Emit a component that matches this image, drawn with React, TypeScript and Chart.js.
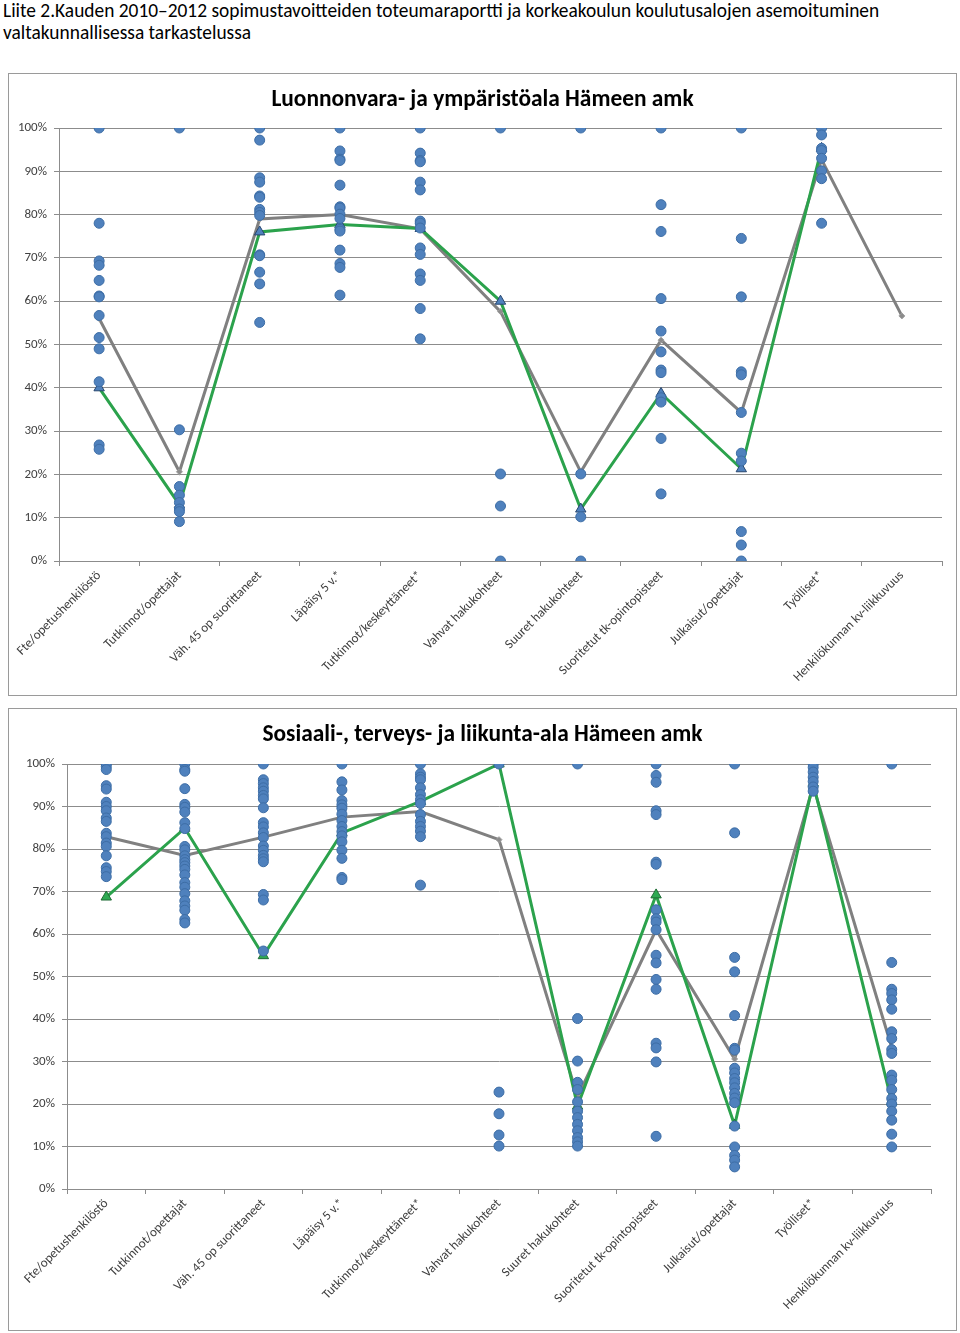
import React, { useEffect, useRef } from 'react';
import { Chart, registerables } from 'chart.js';

Chart.register(...registerables);

const categories = [
  'Fte/opetushenkilöstö',
  'Tutkinnot/opettajat',
  'Väh. 45 op suorittaneet',
  'Läpäisy 5 v.*',
  'Tutkinnot/keskeyttäneet*',
  'Vahvat hakukohteet',
  'Suuret hakukohteet',
  'Suoritetut tk-opintopisteet',
  'Julkaisut/opettajat',
  'Työlliset*',
  'Henkilökunnan kv-liikkuvuus',
];

const yTicks = [0, 10, 20, 30, 40, 50, 60, 70, 80, 90, 100];

const headerLine1 =
  'Liite 2.Kauden 2010–2012 sopimustavoitteiden toteumaraportti ja korkeakoulun koulutusalojen asemoituminen';
const headerLine2 = 'valtakunnallisessa tarkastelussa';

// ---- Chart 1: Luonnonvara- ja ympäristöala ----
const topTitle = 'Luonnonvara- ja ympäristöala Hämeen amk';

// other universities of applied sciences (one list per category)
const topDots: number[][] = [
  [100, 78, 69.3, 68.3, 64.8, 61.2, 61.0, 56.7, 51.6, 49.0, 41.4, 26.8, 25.8],
  [100, 30.3, 17.2, 15.2, 13.5, 12.0, 11.4, 9.1],
  [100, 97.2, 88.5, 87.5, 84.3, 84.0, 81.2, 80.5, 79.8, 70.7, 70.5, 66.7, 64.0, 55.1],
  [100, 94.7, 92.8, 92.5, 86.8, 81.8, 81.5, 80.1, 79.1, 76.6, 76.2, 71.8, 68.7, 67.8, 61.4],
  [100, 94.2, 92.5, 92.2, 87.5, 85.7, 78.5, 78.0, 76.9, 72.3, 70.8, 66.3, 64.8, 58.3, 51.3],
  [100, 20.1, 12.7, 0],
  [100, 20.1, 10.2, 0],
  [100, 82.3, 76.1, 60.6, 53.1, 48.3, 44.1, 43.5, 37.7, 36.7, 28.3, 15.5],
  [100, 74.5, 61.0, 43.7, 43.0, 34.3, 24.9, 23.1, 6.8, 3.7, 0],
  [100, 98.4, 95.3, 94.8, 93.0, 90.1, 88.3, 78.0],
  [],
];
// Hämeen amk
const topSchool: (number | null)[] = [40, 13, 76, 77.7, 76.8, 60, 12, 38.7, 21.3, 95.3, null];
// national level
const topNational: number[] = [56, 20.6, 79, 80, 76.7, 57.6, 20.6, 51, 34.3, 92.7, 56.6];

// ---- Chart 2: Sosiaali-, terveys- ja liikunta-ala ----
const bottomTitle = 'Sosiaali-, terveys- ja liikunta-ala Hämeen amk';

const bottomDots: number[][] = [
  [100, 99.4, 98.7, 94.9, 94.1, 91.0, 90.0, 89.0, 87.3, 86.5, 83.7, 82.9, 81.4, 80.6, 78.4, 75.6, 74.7, 73.5],
  [100, 98.7, 98.3, 94.2, 90.5, 89.8, 88.7, 86.2, 84.8, 80.6, 79.8, 78.4, 77.5, 76.8, 76.0, 75.2, 73.9, 72.1, 71.0, 69.5, 67.8, 66.6, 65.6, 63.4, 62.6],
  [100, 96.3, 95.4, 94.4, 93.6, 92.6, 91.8, 89.7, 86.2, 85.2, 83.8, 82.7, 80.7, 79.7, 78.5, 77.7, 77.0, 69.3, 68.0, 56.0],
  [100, 95.8, 93.9, 91.4, 90.4, 89.6, 88.2, 86.7, 85.3, 84.1, 83.1, 81.7, 79.7, 77.8, 73.3, 72.8],
  [100, 97.7, 96.9, 96.3, 94.4, 92.8, 91.6, 90.7, 88.1, 86.5, 85.3, 84.2, 82.9, 71.5],
  [100, 22.8, 17.7, 12.7, 10.1],
  [100, 40.1, 30.1, 25.1, 23.4, 20.5, 18.3, 16.8, 15.2, 13.7, 12.1, 11.1, 10.1],
  [100, 97.3, 95.7, 89.0, 88.1, 76.9, 76.4, 65.7, 63.6, 62.8, 61.0, 55.0, 53.2, 49.3, 47.0, 34.3, 33.2, 29.9, 12.4],
  [100, 83.8, 54.5, 51.1, 40.8, 33.1, 32.7, 28.4, 27.3, 26.0, 25.0, 23.8, 22.5, 21.4, 20.3, 14.8, 9.9, 7.9, 6.8, 5.2],
  [100, 99.2, 98.1, 96.9, 95.9, 94.6, 93.6],
  [100, 53.3, 47.0, 46.0, 44.5, 42.3, 37.0, 35.4, 32.8, 31.9, 26.8, 25.6, 23.4, 21.3, 20.0, 18.3, 16.2, 12.9, 9.9],
];
const bottomSchool: (number | null)[] = [68.7, 84.9, 54.9, 83.8, 91.2, 100, 19.5, 69.2, 15.0, 95.5, 20.5];
const bottomNational: number[] = [82.9, 78.5, 82.8, 87.5, 88.8, 82.2, 21.7, 61.0, 30.6, 94.8, 33.3];

const FONT = 'Carlito, Calibri, Lato, "Open Sans", sans-serif';
const GRID = '#8C8C8C';
const TEXT = '#404040';

type PanelProps = {
  title: string;
  dots: number[][];
  school: (number | null)[];
  national: number[];
  top: number;
  yAxisWidth: number;
  padTop: number;
  padRight: number;
  xAxisHeight: number;
  triFill: string;
  triBorder: string;
};

const BOX_W = 949;
const BOX_H = 623;

function Panel(p: PanelProps) {
  const ref = useRef<HTMLCanvasElement | null>(null);
  useEffect(() => {
    if (!ref.current) return;
    const dotData = p.dots.flatMap((col, i) => col.map((v) => ({ x: categories[i], y: v })));
    const chart = new Chart(ref.current, {
      type: 'line',
      data: {
        labels: categories,
        datasets: [
          {
            label: 'Muut ammattikorkeakoulut',
            data: dotData as any,
            showLine: false,
            pointStyle: 'circle',
            pointRadius: 5,
            pointBackgroundColor: '#4F81BD',
            pointBorderColor: '#3D6DA5',
            pointBorderWidth: 1,
            order: 0,
          },
          {
            label: 'Hämeen amk',
            data: p.school,
            borderColor: '#2BA24C',
            backgroundColor: '#2BA24C',
            borderWidth: 3,
            tension: 0,
            pointStyle: 'triangle',
            pointRadius: 6,
            pointBackgroundColor: p.triFill,
            pointBorderColor: p.triBorder,
            pointBorderWidth: 1,
            order: 1,
          },
          {
            label: 'Valtakunnallinen',
            data: p.national,
            borderColor: '#808080',
            backgroundColor: '#808080',
            borderWidth: 3,
            tension: 0,
            pointStyle: 'rectRot',
            pointRadius: 3,
            pointBackgroundColor: '#8C8C8C',
            pointBorderColor: '#A0A0A0',
            pointBorderWidth: 1,
            order: 2,
          },
        ],
      },
      options: {
        responsive: false,
        animation: false,
        events: [],
        layout: { padding: { top: p.padTop, right: p.padRight, left: 0, bottom: 0 } },
        plugins: { legend: { display: false }, tooltip: { enabled: false }, title: { display: false } },
        scales: {
          x: {
            type: 'category',
            offset: true,
            grid: { offset: true, drawOnChartArea: false, drawTicks: true, tickLength: 5, color: GRID },
            border: { color: GRID, width: 1 },
            ticks: {
              autoSkip: false,
              maxRotation: 45,
              minRotation: 45,
              padding: 2,
              color: TEXT,
              font: { family: FONT, size: 13 },
            },
            afterFit: (s: any) => {
              s.height = p.xAxisHeight;
            },
          },
          y: {
            type: 'linear',
            min: 0,
            max: 100,
            afterBuildTicks: (s: any) => {
              s.ticks = yTicks.map((v) => ({ value: v }));
            },
            ticks: {
              callback: (v: any) => v + '%',
              color: TEXT,
              padding: 7,
              font: { family: FONT, size: 13 },
            },
            grid: { color: GRID, lineWidth: 1, tickLength: 5 },
            border: { color: GRID, width: 1 },
            afterFit: (s: any) => {
              s.width = p.yAxisWidth;
            },
          },
        },
      },
    });
    return () => chart.destroy();
  }, []);

  return (
    <div
      style={{
        position: 'absolute',
        left: 8,
        top: p.top,
        width: BOX_W,
        height: BOX_H,
        boxSizing: 'border-box',
        border: '1px solid #9A9A9A',
        background: '#fff',
      }}
    >
      <canvas ref={ref} width={BOX_W - 2} height={BOX_H - 2} style={{ display: 'block' }} />
      <div
        style={{
          position: 'absolute',
          left: 0,
          right: 0,
          top: 11,
          textAlign: 'center',
          fontFamily: FONT,
          fontWeight: 700,
          fontSize: 23.4,
          lineHeight: '26px',
          color: '#000',
          whiteSpace: 'nowrap',
        }}
      >
        {p.title}
      </div>
    </div>
  );
}

export default function App() {
  return (
    <div style={{ position: 'absolute', left: 0, top: 0, width: 960, height: 1333, background: '#fff' }}>
      <div
        style={{
          position: 'absolute',
          left: 3,
          top: 0,
          fontFamily: FONT,
          fontSize: 19.4,
          lineHeight: '22px',
          color: '#000',
          whiteSpace: 'nowrap',
        }}
      >
        {headerLine1}
        <br />
        {headerLine2}
      </div>
      <Panel
        title={topTitle}
        dots={topDots}
        school={topSchool}
        national={topNational}
        top={73}
        yAxisWidth={50}
        padTop={54}
        padRight={14}
        xAxisHeight={134}
        triFill="#4F81BD"
        triBorder="#27466E"
      />
      <Panel
        title={bottomTitle}
        dots={bottomDots}
        school={bottomSchool}
        national={bottomNational}
        top={708}
        yAxisWidth={58}
        padTop={55}
        padRight={25}
        xAxisHeight={141}
        triFill="#2EAA52"
        triBorder="#1E6B34"
      />
    </div>
  );
}
